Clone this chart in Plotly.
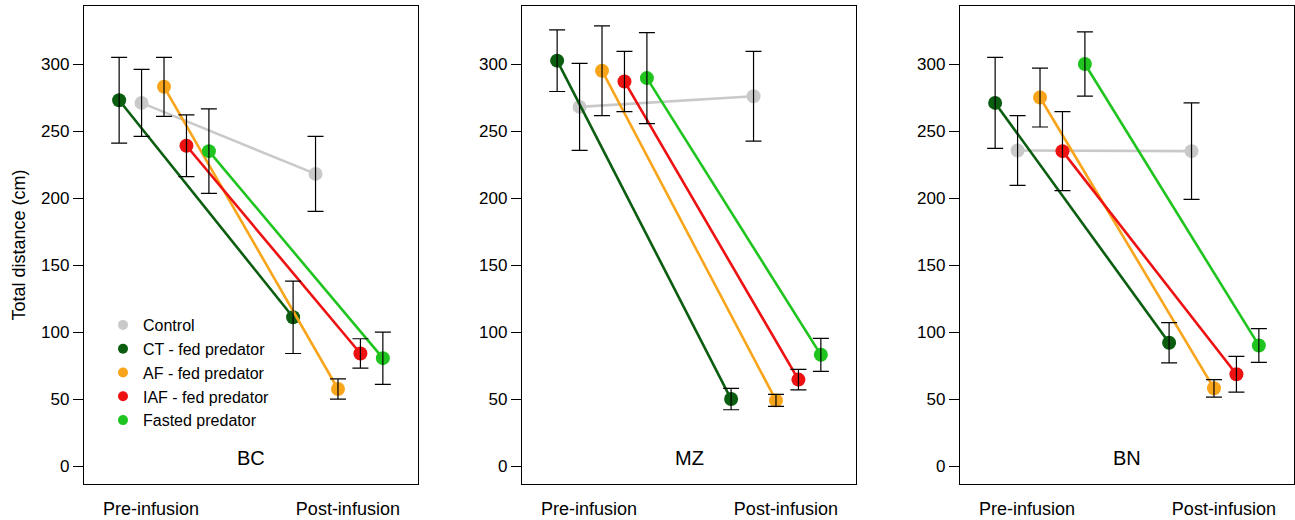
import plotly.graph_objects as go

# ---- data ----
panels = ["BC", "MZ", "BN"]
groups = ["Control", "CT - fed predator", "AF - fed predator", "IAF - fed predator", "Fasted predator"]
phases = ["Pre-infusion", "Post-infusion"]

# means [pre, post] per group
means = {
    "BC": {"Control": [271, 218], "CT - fed predator": [273, 111], "AF - fed predator": [283, 57.5],
           "IAF - fed predator": [239, 84], "Fasted predator": [235, 80.5]},
    "MZ": {"Control": [268, 276], "CT - fed predator": [302.5, 50], "AF - fed predator": [295, 49],
           "IAF - fed predator": [287, 64.5], "Fasted predator": [289.5, 83]},
    "BN": {"Control": [235.5, 235], "CT - fed predator": [271, 92], "AF - fed predator": [275, 58],
           "IAF - fed predator": [235, 68.5], "Fasted predator": [300, 90]},
}
# error (+/-) [pre, post]
errors = {
    "BC": {"Control": [25, 28], "CT - fed predator": [32, 27], "AF - fed predator": [22, 7.5],
           "IAF - fed predator": [23, 11], "Fasted predator": [31.5, 19.5]},
    "MZ": {"Control": [32.5, 33.5], "CT - fed predator": [23, 8], "AF - fed predator": [33.5, 4.5],
           "IAF - fed predator": [22.5, 7.7], "Fasted predator": [34, 12.3]},
    "BN": {"Control": [26, 36], "CT - fed predator": [34, 15], "AF - fed predator": [22, 6.5],
           "IAF - fed predator": [29.5, 13.3], "Fasted predator": [24, 12.6]},
}

# ---- style ----
colors = {"Control": "#c9c9c9", "CT - fed predator": "#0b5d10", "AF - fed predator": "#f8a51c",
          "IAF - fed predator": "#ee1111", "Fasted predator": "#1fc41f"}
dodge = {"Control": -1, "CT - fed predator": -2, "AF - fed predator": 0,
         "IAF - fed predator": 1, "Fasted predator": 2}
step = 0.129
phase_pos = [1, 2]
label_pos = [0.925, 2.057]
FONT = "Liberation Sans, Arial, Helvetica, sans-serif"

W, H = 1295, 520
frames_px = [(84, 418), (522, 856), (960, 1294)]
y_dom = [(520 - 484) / H, (520 - 6) / H]

fig = go.Figure()
for i, p in enumerate(panels):
    xa = "x" if i == 0 else f"x{i+1}"
    ya = "y" if i == 0 else f"y{i+1}"
    for g in groups:
        xs = [pp + dodge[g] * step for pp in phase_pos]
        fig.add_trace(go.Scatter(
            x=xs, y=means[p][g], mode="lines+markers", xaxis=xa, yaxis=ya,
            line=dict(color=colors[g], width=2.6),
            marker=dict(color=colors[g], size=14),
            showlegend=False, hoverinfo="skip"))
    for g in groups:
        xs = [pp + dodge[g] * step for pp in phase_pos]
        fig.add_trace(go.Scatter(
            x=xs, y=means[p][g], mode="markers", xaxis=xa, yaxis=ya,
            marker=dict(color="rgba(0,0,0,0)", size=1),
            error_y=dict(type="data", array=errors[p][g], color="black", thickness=1.2, width=8),
            showlegend=False, hoverinfo="skip"))

# legend entries
for g in groups:
    fig.add_trace(go.Scatter(x=[None], y=[None], mode="markers", name=g,
                             marker=dict(color=colors[g], size=10), showlegend=True))

layout = dict(
    width=W, height=H, margin=dict(l=0, r=0, t=0, b=0),
    paper_bgcolor="white", plot_bgcolor="white",
    font=dict(family=FONT, size=17, color="black"),
    legend=dict(x=103 / W, y=(520 - 308) / H, xanchor="left", yanchor="top",
                bgcolor="rgba(0,0,0,0)", font=dict(size=16), tracegroupgap=0,
                itemwidth=30),
    annotations=[],
)
for i, p in enumerate(panels):
    sx = "" if i == 0 else str(i + 1)
    x0, x1 = frames_px[i]
    layout[f"xaxis{sx}"] = dict(
        domain=[x0 / W, x1 / W], range=[0.54, 2.46], anchor=f"y{sx}",
        showline=True, mirror=True, linecolor="black", linewidth=1.3,
        showgrid=False, zeroline=False, ticks="outside", ticklen=8, tickcolor="rgba(0,0,0,0)",
        tickvals=label_pos, ticktext=phases, tickfont=dict(size=18), automargin=False)
    layout[f"yaxis{sx}"] = dict(
        domain=y_dom, range=[-13.4, 343.3], anchor=f"x{sx}",
        showline=True, mirror=True, linecolor="black", linewidth=1.3,
        showgrid=False, zeroline=False, ticks="outside", ticklen=10, tickwidth=1.2, tickcolor="black",
        tickvals=[0, 50, 100, 150, 200, 250, 300], tickfont=dict(size=17), automargin=False)
    layout["annotations"].append(dict(
        text=p, x=(x0 + x1) / 2 / W, xref="paper", y=6, yref=f"y{sx}",
        showarrow=False, font=dict(size=20), xanchor="center", yanchor="middle"))
layout["yaxis"]["title"] = dict(text="Total distance (cm)", font=dict(size=18), standoff=10)

fig.update_layout(**layout)
fig.write_html("out.html")
